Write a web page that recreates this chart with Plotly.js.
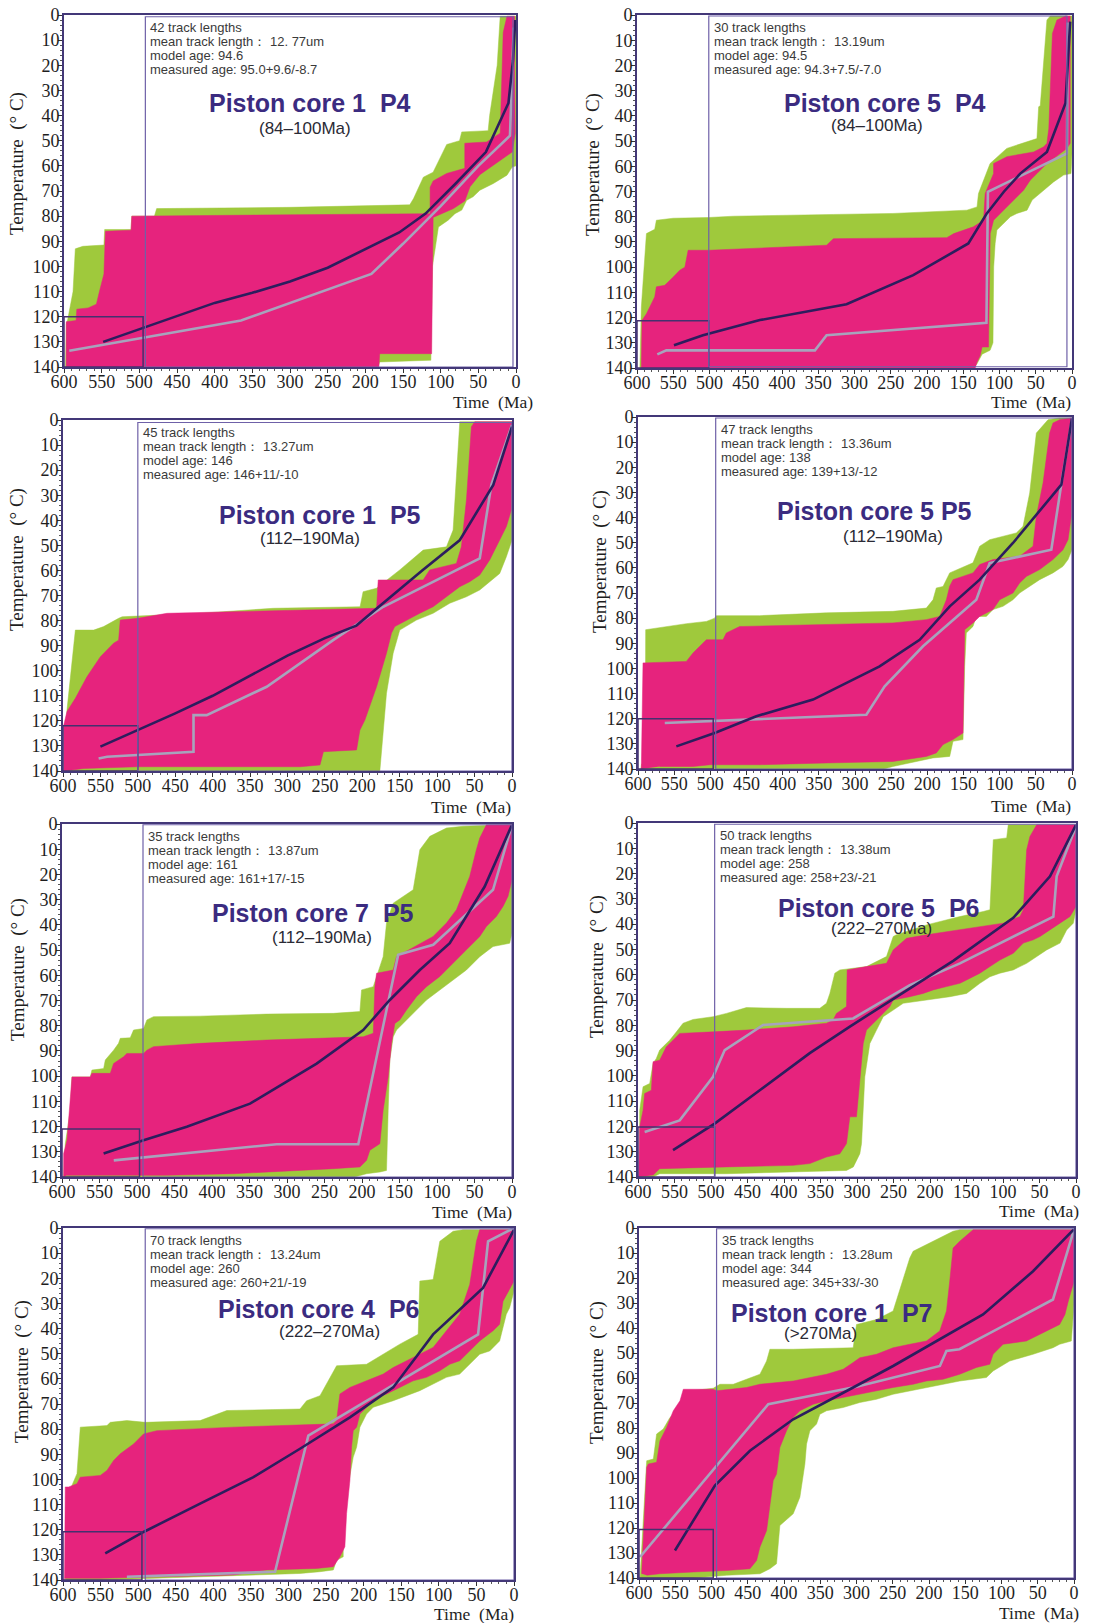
<!DOCTYPE html>
<html>
<head>
<meta charset="utf-8">
<script src="https://cdn.plot.ly/plotly-3.0.1.min.js"></script>
<style>
  html, body { margin: 0; padding: 0; background: #ffffff; }
  #chart { width: 1119px; height: 1623px; }
</style>
</head>
<body>
<div id="chart"></div>
<script>
// ---------------------------------------------------------------
// Thermal history models (time in Ma, temperature in °C).
// Each sample: acceptable envelope, good envelope, best-fit path,
// weighted mean path. Points are [time, temperature].
// ---------------------------------------------------------------

const sampleTitles = ['Piston core 1\u00a0\u00a0P4', 'Piston core 5\u00a0\u00a0P4', 'Piston core 1\u00a0\u00a0P5', 'Piston core 5 P5',
                      'Piston core 7\u00a0\u00a0P5', 'Piston core 5\u00a0\u00a0P6', 'Piston core 4\u00a0\u00a0P6', 'Piston core 1\u00a0\u00a0P7'];
const ageRanges = ['(84\u2013100Ma)', '(84\u2013100Ma)', '(112\u2013190Ma)', '(112\u2013190Ma)',
                   '(112\u2013190Ma)', '(222\u2013270Ma)', '(222\u2013270Ma)', '(>270Ma)'];
const trackCounts = [42, 30, 45, 47, 35, 50, 70, 35];
const meanTrackLengths = ['12. 77', '13.19', '13.27', '13.36', '13.87', '13.38', '13.24', '13.28'];
const modelAges = ['94.6', '94.5', '146', '138', '161', '258', '260', '344'];
const measuredAges = ['95.0+9.6/-8.7', '94.3+7.5/-7.0', '146+11/-10', '139+13/-12',
                      '161+17/-15', '258+23/-21', '260+21/-19', '345+33/-30'];

// constraint boxes: [older time, younger time, lower T, higher T]
const startConstraints = [[600, 495, 120, 140], [600, 501, 121.3, 140], [600, 500, 122, 140], [600, 496, 120, 140],
                          [600, 496.6, 121, 140], [600, 495, 120.2, 140], [600, 495, 120.8, 140], [600, 497.6, 120.6, 140]];
const coolingConstraints = [[492, 4, 0.7, 140], [501, 7, 0.4, 139.5], [500, 0, 1, 140], [492.6, 0, 0.4, 140],
                            [492, 0, 0.3, 140], [495, 0, 0.5, 140], [490.6, 0, 0.3, 140], [493, 0, 0.3, 140]];

// ---- Piston core 1 P4 ----
const core1P4Acceptable = [[598,140],[597,123],[595,121],[588,110],[585,93],[575,92],[547,91.5],[546,85.3],[511,85.3],[510,80],[480,80],[477,77],[300,76.5],[200,76],[141,75.5],[136,73],[123,64.5],[110,62.5],[92,51.5],[75,50],[72,46.5],[37,46],[35,40],[25,20],[22,6],[21,0.5],[0,0.5],[0,60],[5,60.5],[12,63.7],[30,67],[48,69.7],[57,72.3],[65.5,73.7],[72,77.6],[81,79],[90,81.6],[103,84.3],[107.6,93.5],[111,100],[113,137.3],[181,138],[183,140]];
const core1P4Good = [[597,140],[597,122],[584,121.5],[583,117],[568,116.5],[557,115],[553,110],[547,103],[545,86],[511,85.6],[510,80],[250,79.5],[114,79],[114,68.5],[110,66],[92,63],[68,61],[68,51],[39,50.5],[21,47],[17,7],[12,0.5],[2,0.5],[2,20],[1,47],[5,54.5],[17,57],[30,60],[48,63.5],[61,68.3],[68,74],[83,77],[99,79],[110,80.5],[112,134.7],[181,134.7],[182,140]];
const core1P4Best = [[548,130],[500,125],[450,119.5],[400,114.5],[350,110.5],[300,106],[250,100.5],[200,93],[155,86.5],[120,79],[80,67],[40,54.5],[10,35],[4,18],[1,2]];
const core1P4Mean = [[593,133.5],[365,121.5],[192,103],[150,91],[100,76],[50,60],[8,48],[6,33],[3,5]];

// ---- Piston core 5 P4 ----
const core5P4Acceptable = [[596,140],[594,115.8],[587,86.7],[575.6,85],[573.3,81.4],[550,80.6],[501,80.3],[467,79.8],[329,79.1],[247,78.7],[145,77.4],[131,76.1],[129,70.8],[122,65.5],[113,58.9],[90,52.9],[53,49.6],[48.4,49],[46,36.4],[43.8,36],[34.6,2],[30,0.4],[0,0.4],[0,55],[1.4,62.9],[11.6,63.5],[25.4,66.2],[39,69.5],[48.4,72.1],[55,73.4],[62,77.4],[76,78.7],[85,80],[94.5,82.7],[103.6,85.3],[106,90.6],[108,99.9],[109,130],[113,133],[124,134.5],[131,138.3],[136,140]];
const core5P4Good = [[594,140],[593,121.1],[587,118.5],[575.6,111.8],[573.3,107.8],[561.8,107.2],[550,103.9],[541,101.2],[534,100],[531.8,97.3],[529.5,93.3],[501,93.3],[338.5,91.3],[329.2,88.7],[172.7,88.3],[163,86.7],[136,84],[122,81.4],[119.8,70.8],[108.2,62.9],[108.2,58.9],[89.8,56.2],[53,54.3],[39,52.3],[34.6,50.9],[32,45],[27,7.3],[20.8,2],[9,0.4],[2.5,0.4],[2.5,50.9],[7,52.9],[16.2,54.9],[34.6,58.9],[48.4,62.9],[57.6,65.5],[66.8,69.5],[76,72.1],[85,74.8],[99,78.7],[108.2,81.4],[112.8,86.7],[115.1,131.7],[124,131.7],[126.6,135],[131.2,137.8],[133.5,140]];
const core5P4Best = [[549,131],[509,127],[430.5,121],[311,114.7],[219,103.2],[143,90.6],[117.5,78.7],[94,70.1],[71.4,62.9],[34.6,54.3],[9,35],[2.5,2.6]];
const core5P4Mean = [[572,134.6],[559.5,133],[354.6,133],[338.5,127],[118,122.1],[116,70.1],[7,54.9],[6,3]];

// ---- Piston core 1 P5 ----
const core1P5Acceptable = [[597,140],[597,133],[594.7,115.7],[583.5,83.8],[559,83.8],[545.7,82.4],[525.7,79.1],[521,78.5],[500,78.2],[416.7,77.1],[318.9,75.1],[203,74.5],[199,68.5],[181,67.1],[150,59.8],[118.7,51.9],[87.6,50.6],[78.7,43.9],[69.8,0.7],[0,0.7],[0,47.9],[7.5,54.5],[16.4,61.2],[29.8,64.5],[43.1,67.8],[60.9,70.5],[83.2,73.1],[105.4,77.1],[127.6,79.8],[150,83.8],[158.8,93],[167.7,109],[176.6,139.6],[176.6,140]];
const core1P5Good = [[599,140],[599,121.7],[594.7,116.3],[583.5,111],[568,102.4],[550,94.4],[532.4,89],[525.7,87.8],[523.5,79.8],[500,79.1],[461,77.1],[181,75.1],[178.8,63.8],[118.7,63.8],[110,59.8],[74.3,57.2],[67.6,50.5],[60.9,31.9],[54.3,2.7],[49.8,0.7],[0,0.7],[0.9,35.9],[7.5,42.5],[16.4,47.9],[29.8,55.8],[43.1,61.8],[56.5,64.5],[69.8,66.5],[87.6,70.5],[105.4,74.5],[123.2,77.1],[141,79.8],[156.6,82.4],[161,85],[167.7,93],[181,106.4],[189.9,114.3],[196.6,119.7],[203.3,123.7],[207.7,131.6],[252,132.3],[256.6,137.6],[283,138.3],[500,138.3],[572,139],[599,140]];
const core1P5Best = [[550,130.3],[500,123.7],[450,117],[400,110],[350,102],[300,94],[250,87],[208,82],[170,72.5],[120,60],[70,48],[25,25.9],[0,2.7]];
const core1P5Mean = [[552.4,135],[541,134.3],[425.6,132.3],[425.6,117.7],[408,117.7],[327.8,106.4],[239,87.8],[172,74.5],[43.1,55.2],[27.6,25.9],[0,2]];

// ---- Piston core 5 P5 ----
const core5P5Acceptable = [[596,140],[595,138],[590,137],[589.4,84.6],[533,82.2],[505.5,81.3],[494,80],[491.7,79],[431.8,79],[339.6,77.9],[247.5,77.3],[201.4,76],[192.2,72.7],[187.6,68],[178.3,67.4],[169.1,62],[136.9,58],[127.6,51.4],[113.8,48.8],[77,46.1],[67.7,43.5],[58.5,30.2],[49.3,6.4],[33.2,1.1],[17,0.4],[0,0.4],[0,52.8],[5.5,56.7],[12.4,59.4],[26.3,62],[44.7,64.7],[63.1,68],[72.4,70],[81.6,72.7],[95.4,75.3],[109.2,76.6],[118.4,79.3],[132.3,79.3],[136.9,83.3],[146.1,85.9],[148.4,99.2],[150.7,128.3],[164.5,129],[169.1,135],[192.2,135.6],[247.5,139],[260,140]];
const core5P5Good = [[595.4,140],[593.1,97.8],[533.2,97.2],[524,93.9],[510.1,89.9],[505.5,88.6],[482.5,88.6],[477.9,85.9],[459.4,83.3],[454.8,83.3],[247.5,81.9],[201.4,80.6],[183,79.3],[173.7,72.7],[169.1,67.3],[164.5,64.7],[136.9,62],[127.6,58.7],[109.2,56.7],[72.4,55.4],[53.9,51.4],[49.3,39.5],[40,26.2],[30.9,6.4],[26.3,2.4],[17.1,1.1],[0,0.4],[0.9,39.5],[5.5,48.8],[12.4,52.8],[26.3,56.7],[44.7,60.7],[63.1,63.4],[72.4,66],[81.6,70],[100,72.7],[109.2,76.6],[127.6,79.3],[136.9,81.9],[148.4,84.6],[150.7,125.7],[164.5,128.3],[178.3,130.3],[187.6,133.6],[201.4,135],[247.5,137],[339.6,137.6],[431.8,138.3],[500,138.3],[524,139],[570,139]];
const core5P5Best = [[547,131],[494,125.7],[436.4,119],[358,112.4],[266,99.2],[210.6,88.6],[169,75.3],[127.6,64.7],[81.6,50.1],[14.7,26.9],[0,0.4]];
const core5P5Mean = [[563,121.7],[284.3,118.4],[259,107.1],[206,91.2],[132.3,72.7],[113.8,58.1],[28.6,52.8],[12.4,22.3],[0,1.1]];

// ---- Piston core 7 P5 ----
const core7P5Acceptable = [[597.8,140],[595.6,126.8],[588.9,113.5],[586.7,100.3],[562.3,100.3],[560.1,97.6],[544.5,97],[542.3,93.6],[531.2,89.7],[524.6,87],[522.3,85],[509,84.8],[504.6,81.7],[491.3,81.1],[486.8,77.7],[478,76.4],[415.8,76.2],[327.1,75.4],[238.3,75.1],[202.8,74.4],[200.6,65.8],[185,64.5],[171.8,52.6],[167.3,39.3],[158.4,31.4],[131.8,26.1],[122.9,10.2],[109.6,4.9],[87.4,1.6],[65.2,0.9],[3.1,0.3],[0,0.3],[0,43.3],[3.1,47.3],[25.3,48.6],[43,52.6],[60.8,57.9],[78.5,61.9],[96.3,65.8],[114,69.8],[127.4,73.8],[140.7,77.7],[154,81.7],[158.4,84.4],[162.9,93.6],[165.1,113.5],[167.3,137.4],[176,138],[194,138.7],[210,140]];
const core7P5Good = [[597.8,140],[597.8,130.7],[593.3,125.4],[586.7,100.3],[562.3,100.3],[560.1,98.9],[535.6,98.9],[531.2,95],[517.9,92.3],[513.5,91],[491.3,91],[486.8,89.7],[478,88.3],[415.8,87],[327.1,85.7],[238.3,85],[198.4,84.4],[185,83],[182.8,64.5],[180.6,59.2],[158.4,57.9],[154,52.6],[122.9,47.3],[105.2,44.6],[87.4,39.3],[74.1,34],[65.2,27.4],[56.4,20.8],[47.5,10.2],[43,5.6],[34.2,0.3],[0,0.3],[0,22.1],[5.3,28.7],[12,32.7],[20.9,36.7],[34.2,40.7],[43,44.6],[60.8,49.9],[69.7,52.6],[83,56.6],[96.3,60.5],[114,64.5],[127.4,68.5],[140.7,73.8],[149.6,77.7],[156.2,79.1],[160.6,87],[165.1,100.3],[171.8,113.5],[176.2,126.8],[189.5,129.4],[193.9,133.4],[202.8,136],[238.3,136.7],[282.7,137.4],[371.4,138.7],[460.2,139.3],[593.3,139.3]];
const core7P5Best = [[544.5,130.7],[491.3,125.4],[433.6,120.1],[349.3,110.9],[260.5,95],[198.4,81.7],[162.9,69.8],[122.9,57.9],[83,47.3],[36.4,24.8],[0,0.3]];
const core7P5Mean = [[531,133.4],[420,130.2],[313.8,127],[205,127],[151.8,51.9],[105,47.9],[25.3,26.1],[0,0.3]];

// ---- Piston core 5 P6 ----
const core5P6Acceptable = [[597.7,140],[597.7,113.6],[593.1,104.3],[584,103],[579.4,95.1],[574.9,93.1],[570.3,89.8],[556.6,85.9],[547.4,82.6],[538.3,79.2],[524.6,77.7],[497.2,76.6],[478.9,75.3],[451.5,73],[396.6,73.3],[350.9,73.3],[341.8,71.3],[337.2,67.4],[330.4,59.4],[323.5,58.1],[287,56.8],[259.6,52.8],[250.4,44.9],[245.9,44.2],[204.7,40.3],[159,37],[127,35],[117.9,34.3],[113.3,6.6],[95,5.9],[92.8,0.7],[0,0.7],[0,34.3],[3.7,39.6],[12.8,42.3],[21.9,47.5],[40.2,50.2],[53.9,52.8],[67.6,55.5],[76.8,56.8],[85.9,58.1],[104.2,59.4],[117.9,60.8],[131.6,63.4],[149.9,67.4],[172.7,68.7],[204.7,70],[236.7,71.3],[250.4,74],[264.1,76.6],[273.3,81.9],[282.4,87.2],[289.3,100.4],[293.8,126.8],[296.1,130.8],[305,136],[314.4,137.4],[396.6,138],[478.9,138.7],[570.3,138.7],[579.4,140]];
const core5P6Good = [[599,140],[597.7,120.2],[593.1,113.6],[590.9,107],[581.7,105.7],[579.4,94.4],[570.3,93.8],[561.2,88.5],[552,85.9],[542.9,83.2],[497.2,82.6],[451.5,81.9],[387.5,80.6],[341.8,79.2],[332.7,77.9],[328.1,75.3],[314.4,72.6],[313.5,58.1],[287,56.8],[259.6,55.5],[250.4,50.2],[232.1,45.6],[204.7,44.2],[159,42.3],[131.6,40.9],[99.6,39.6],[76.8,37],[72.2,34.3],[67.6,10.6],[63.1,5.3],[53.9,0.7],[0,0.7],[0,33],[8.2,37],[21.9,39.6],[35.6,42.3],[49.3,44.9],[58.5,46.2],[72.2,47.5],[85.9,51.5],[104.2,54.2],[117.9,56.8],[131.6,59.4],[149.9,62.1],[159,63.4],[177.3,64.7],[195.6,66],[209.3,67.4],[227.6,68.7],[250.4,70],[255,72.6],[268.7,76.6],[277.8,79.2],[287,81.9],[291.5,87.2],[296.1,100.4],[300.7,116.2],[309.8,116.2],[314.4,126.8],[323.5,130.8],[341.8,132.1],[364.7,134.7],[387.5,135.4],[478.9,136],[570.3,136.7],[579.4,139.3]];
const core5P6Best = [[552,129.4],[495,118.9],[433.2,105.7],[364.7,91],[309.8,80.5],[250.4,69.5],[168.2,54.5],[85.9,37.5],[35.6,21.1],[0,0.7]];
const core5P6Mean = [[590.9,122.2],[542.9,117.6],[497.2,100.4],[481.2,89.8],[428.6,79.9],[305.3,77.3],[227.6,64.1],[159,55.5],[31,37],[26.5,21.1],[0,1.3]];

// ---- Piston core 4 P6 ----
const core4P6Acceptable = [[596.9,140],[594.7,107],[581.4,97.7],[577,79.2],[541.5,78.6],[537.1,77.3],[515,76.6],[490.6,77.3],[417.6,76.6],[382.1,72.6],[284.7,72],[275.9,68.7],[258.1,66.7],[240.4,56.8],[236,54.8],[196.2,54.2],[174,50.2],[151.9,46.2],[127.5,42.3],[125.3,21.1],[107.6,20.5],[98.7,5.3],[81,1.3],[67.7,0.7],[0,0.7],[0,25.1],[5.8,31.7],[10.2,34.3],[19.1,44.9],[32.3,48.9],[45.6,50.2],[54.5,52.8],[63.3,55.5],[72.2,58.1],[89.9,59.4],[107.6,62.1],[125.3,64.7],[143,66.7],[160.7,68.7],[187.3,71.3],[196.2,74],[205,79.2],[209.4,87.2],[213.9,91.1],[222.7,107],[227.2,113.6],[227.2,130.8],[236,132.1],[240.4,136],[258.1,136.7],[284.7,137.4],[417.6,138.7],[550.4,140]];
const core4P6Good = [[598,140],[597,103],[592.5,103],[581.4,101.7],[577,99.1],[550.4,98.4],[541.5,96.4],[532.7,92.5],[523.8,89.8],[506.1,85.9],[492.8,81.9],[475.1,80.6],[373.3,79.2],[240.4,77.9],[236,76.6],[231.6,66],[218.3,63.4],[196.2,60.8],[174,58.1],[160.7,55.5],[134.2,51.5],[107.6,47.5],[89.9,40.9],[72.2,34.3],[58.9,22.5],[54.5,14.5],[50,5.3],[45.6,0.7],[0,0.7],[0,21.1],[10.2,26.4],[14.6,29.1],[19.1,38.3],[27.9,40.9],[45.6,44.9],[54.5,47.5],[63.3,50.2],[72.2,52.8],[85.5,54.2],[98.7,56.8],[116.5,59.4],[134.2,60.8],[151.9,63.4],[169.6,66],[182.9,67.4],[196.2,71.3],[205,74],[209.4,79.2],[213.9,80.6],[216.1,87.2],[218.3,100.4],[222.7,113.6],[225,126.8],[231.6,130.8],[240.4,134.7],[262.6,135.4],[329,136],[373.3,138],[461.8,138.7],[550.4,139.3],[598,139.3]];
const core4P6Best = [[543.8,129.4],[492.8,120.9],[417.6,109.6],[346.7,99.1],[284.7,87.8],[218.3,75.3],[160.7,63.4],[107.6,42.3],[41.2,23.8],[0,0.7]];
const core4P6Mean = [[515,138.7],[317.9,136.7],[273.6,82.6],[47.8,42.3],[34.5,5.3],[0,0]];

// ---- Piston core 1 P7 ----
const core1P7Acceptable = [[598.6,140],[589.4,93.1],[580.2,92.4],[575.7,82.4],[566.5,80.4],[557.3,75.8],[552.7,74.5],[534.4,69.1],[527.4,65.1],[497.6,64.1],[488.4,62.5],[470,62.5],[451.7,60.5],[433.2,58.5],[424,53.2],[419.5,48.5],[387.3,48.5],[304.6,47.9],[300,38.6],[272.4,36.6],[249.5,33.2],[226.5,12],[221.9,9.3],[203.5,6.6],[166.8,1.3],[157.6,0.7],[0,0.7],[0,30.6],[3.7,45.2],[19.8,46.5],[29,47.9],[56.5,50.5],[88.7,53.2],[111.6,57.2],[120.8,59.8],[157.6,61.2],[180.6,62.5],[203.5,63.8],[221.9,65.1],[249.5,66.5],[272.4,68.5],[295.4,69.8],[318.4,71.8],[341.3,73.1],[350.5,74.5],[355.1,78.4],[364.3,81.1],[368.9,86.4],[371.2,94.4],[378.1,107.7],[387.3,114.3],[405.7,119],[410.3,134.3],[419.5,136.3],[433.2,138.3],[479.2,138.9],[525.1,140]];
const core1P7Good = [[596.3,138.3],[589.4,95.7],[587.1,94.4],[575.7,93.7],[571.1,85.1],[561.9,79.8],[552.7,73.1],[543.5,69.1],[538.9,64.5],[497.6,64.5],[493,65.1],[470,64.5],[451.7,63.8],[433.2,62.5],[387.3,61.2],[341.3,58.5],[318.4,56.5],[304.6,53.8],[295.4,51.9],[272.4,50.5],[249.5,47.9],[226.5,46.5],[203.5,45.2],[185.2,41.2],[175.9,33.2],[171.4,21.3],[166.8,8],[157.6,5.3],[139.2,0.7],[0,0.7],[0,21.3],[7.9,29.3],[12.5,34.6],[19.8,38.6],[29,39.9],[47.3,42.5],[65.7,45.2],[97.8,46.5],[111.6,50.5],[116.2,54.5],[134.6,55.8],[157.6,58.5],[180.6,60.5],[203.5,61.2],[221.9,62.5],[249.5,63.8],[272.4,65.1],[295.4,66.5],[318.4,67.8],[341.3,69.1],[359.7,70.5],[378.1,73.1],[387.3,75.8],[396.5,81.1],[405.7,87.8],[410.3,98.4],[414.9,101],[419.5,110.4],[424,121],[433.2,127.6],[437.8,133],[447,136.3],[479.2,137],[525.1,137.6],[571.1,138.3],[589.4,138.9]];
const core1P7Best = [[550.4,129],[495.3,103],[447,89.1],[387.3,76.5],[304.6,63.8],[249.5,55.2],[125.4,34.6],[56.5,17.3],[0,0.5]];
const core1P7Mean = [[598.6,131.6],[421.7,70.5],[300,63.5],[185,55.2],[176,49.2],[158,48.5],[29,28.6],[0,0.7]];

const acceptablePaths = [core1P4Acceptable, core5P4Acceptable, core1P5Acceptable, core5P5Acceptable,
                         core7P5Acceptable, core5P6Acceptable, core4P6Acceptable, core1P7Acceptable];
const goodPaths = [core1P4Good, core5P4Good, core1P5Good, core5P5Good,
                   core7P5Good, core5P6Good, core4P6Good, core1P7Good];
const bestPaths = [core1P4Best, core5P4Best, core1P5Best, core5P5Best,
                   core7P5Best, core5P6Best, core4P6Best, core1P7Best];
const meanPaths = [core1P4Mean, core5P4Mean, core1P5Mean, core5P5Mean,
                   core7P5Mean, core5P6Mean, core4P6Mean, core1P7Mean];

// ---------------------------------------------------------------
// Page geometry (pixels) and styling
// ---------------------------------------------------------------
const W = 1119, H = 1623;
// plot frames: [left, right, top, bottom]
const frames = [
  [64, 516, 15, 367], [637, 1072, 15, 368],
  [63, 512, 420, 771], [638, 1072, 417, 769],
  [62, 512, 824, 1177], [638, 1076, 823, 1177],
  [63, 514, 1228, 1580], [639, 1074, 1228, 1578]
];
// sample title centre [time, temperature] and age-range centre
const titleSpots = [[274, 35], [258, 35], [257, 37.9], [273, 37.5], [265, 35.4], [271, 33.7], [260, 32.4], [334, 33.9]];
const rangeSpots = [[280, 45.3], [269, 43.7], [270, 47.2], [247, 47.5], [254, 45], [266, 41.6], [245, 41], [350, 42.2]];
// "Time (Ma)" right edge / centre y, "Temperature" centre x / centre y (pixels)
const timeLabelSpots = [[535, 402], [1073, 402], [513, 807], [1073, 806], [514, 1212], [1081, 1211], [516, 1614], [1081, 1613]];
const tempLabelSpots = [[17, 164], [593, 165], [17, 560], [600, 562], [18, 970], [597, 967], [22, 1372], [597, 1373]];

const GREEN = '#9fc93c';
const MAGENTA = '#e6237d';
const BEST = '#2c1d5e';
const MEAN = '#a7a3bc';
const FRAME = '#433878';
const SERIF = 'Liberation Serif, Times New Roman, serif';
const SANS = 'Liberation Sans, Arial, sans-serif';

const traces = [];
const shapes = [];
const annotations = [];
const layout = {
  width: W, height: H,
  margin: { l: 0, r: 0, t: 0, b: 0 },
  paper_bgcolor: '#ffffff',
  plot_bgcolor: '#ffffff',
  showlegend: false,
  shapes: shapes,
  annotations: annotations
};

function xs(pts) { return pts.map(p => p[0]); }
function ys(pts) { return pts.map(p => p[1]); }

for (let i = 0; i < 8; i++) {
  const s = i === 0 ? '' : String(i + 1);
  const [l, r, t, b] = frames[i];
  const xa = 'x' + s, ya = 'y' + s;

  layout['xaxis' + s] = {
    domain: [l / W, r / W], anchor: ya,
    range: [600, 0], tickmode: 'linear', tick0: 0, dtick: 50,
    ticks: 'outside', ticklen: 4, tickwidth: 1, tickcolor: '#333',
    minor: { dtick: 10, ticks: 'outside', ticklen: 2, tickcolor: '#555', showgrid: false },
    ticklabelstandoff: -7,
    showline: true, linecolor: FRAME, linewidth: 2, mirror: true,
    showgrid: false, zeroline: false, fixedrange: true,
    tickfont: { family: SERIF, size: 18, color: '#1e1e1e' }
  };
  layout['yaxis' + s] = {
    domain: [1 - b / H, 1 - t / H], anchor: xa,
    range: [140, 0], tickmode: 'linear', tick0: 0, dtick: 10,
    ticks: 'outside', ticklen: 4, tickwidth: 1, tickcolor: '#333',
    minor: { dtick: 2, ticks: 'outside', ticklen: 2, tickcolor: '#555', showgrid: false },
    ticklabelstandoff: -5,
    showline: true, linecolor: FRAME, linewidth: 2, mirror: true,
    showgrid: false, zeroline: false, fixedrange: true,
    tickfont: { family: SERIF, size: 18, color: '#1e1e1e' }
  };

  // acceptable and good envelopes
  traces.push({
    type: 'scatter', mode: 'lines', x: xs(acceptablePaths[i]), y: ys(acceptablePaths[i]),
    fill: 'toself', fillcolor: GREEN, line: { color: GREEN, width: 0.5 },
    xaxis: xa, yaxis: ya, hoverinfo: 'skip'
  });
  traces.push({
    type: 'scatter', mode: 'lines', x: xs(goodPaths[i]), y: ys(goodPaths[i]),
    fill: 'toself', fillcolor: MAGENTA, line: { color: MAGENTA, width: 0.5 },
    xaxis: xa, yaxis: ya, hoverinfo: 'skip'
  });
  // weighted mean path and best-fit path
  traces.push({
    type: 'scatter', mode: 'lines', x: xs(meanPaths[i]), y: ys(meanPaths[i]),
    line: { color: MEAN, width: 2.6 }, xaxis: xa, yaxis: ya, hoverinfo: 'skip'
  });
  traces.push({
    type: 'scatter', mode: 'lines', x: xs(bestPaths[i]), y: ys(bestPaths[i]),
    line: { color: BEST, width: 2.6 }, xaxis: xa, yaxis: ya, hoverinfo: 'skip'
  });

  // constraint boxes
  const sc = startConstraints[i];
  shapes.push({
    type: 'rect', xref: xa, yref: ya, x0: sc[0], x1: sc[1], y0: sc[2], y1: sc[3],
    line: { color: '#45306f', width: 1.5 }, fillcolor: 'rgba(0,0,0,0)', layer: 'above'
  });
  const cc = coolingConstraints[i];
  shapes.push({
    type: 'rect', xref: xa, yref: ya, x0: cc[0], x1: cc[1], y0: cc[2], y1: cc[3],
    line: { color: '#6f61a8', width: 1.2 }, fillcolor: 'rgba(0,0,0,0)', layer: 'above'
  });

  // model statistics
  const info = [
    trackCounts[i] + ' track lengths',
    'mean track length\uff1a ' + meanTrackLengths[i] + 'um',
    'model age: ' + modelAges[i],
    'measured age: ' + measuredAges[i]
  ];
  info.forEach((line, k) => {
    annotations.push({
      xref: xa, yref: ya, x: cc[0], y: 0, xanchor: 'left', yanchor: 'top',
      xshift: 3, yshift: -3 - k * 14, showarrow: false, align: 'left',
      text: line, font: { family: SANS, size: 13, color: '#3a3a3a' }
    });
  });

  // sample name and stratigraphic age
  annotations.push({
    xref: xa, yref: ya, x: titleSpots[i][0], y: titleSpots[i][1],
    xanchor: 'center', yanchor: 'middle', showarrow: false,
    text: '<b>' + sampleTitles[i] + '</b>',
    font: { family: SANS, size: 25, color: '#3b2b80' }
  });
  annotations.push({
    xref: xa, yref: ya, x: rangeSpots[i][0], y: rangeSpots[i][1],
    xanchor: 'center', yanchor: 'middle', showarrow: false,
    text: ageRanges[i], font: { family: SANS, size: 17, color: '#2a2a35' }
  });

  // axis titles
  annotations.push({
    xref: 'paper', yref: 'paper',
    x: timeLabelSpots[i][0] / W, y: 1 - timeLabelSpots[i][1] / H,
    xanchor: 'right', yanchor: 'middle', showarrow: false,
    text: 'Time\u00a0\u00a0(Ma)', font: { family: SERIF, size: 17.5, color: '#1e1e1e' }
  });
  annotations.push({
    xref: 'paper', yref: 'paper',
    x: tempLabelSpots[i][0] / W, y: 1 - tempLabelSpots[i][1] / H,
    xanchor: 'center', yanchor: 'middle', showarrow: false, textangle: -90,
    text: 'Temperature\u00a0\u00a0(\u00b0\u00a0C)', font: { family: SERIF, size: 19, color: '#1e1e1e' }
  });
}

Plotly.newPlot('chart', traces, layout, { staticPlot: true, displayModeBar: false });
</script>
</body>
</html>
